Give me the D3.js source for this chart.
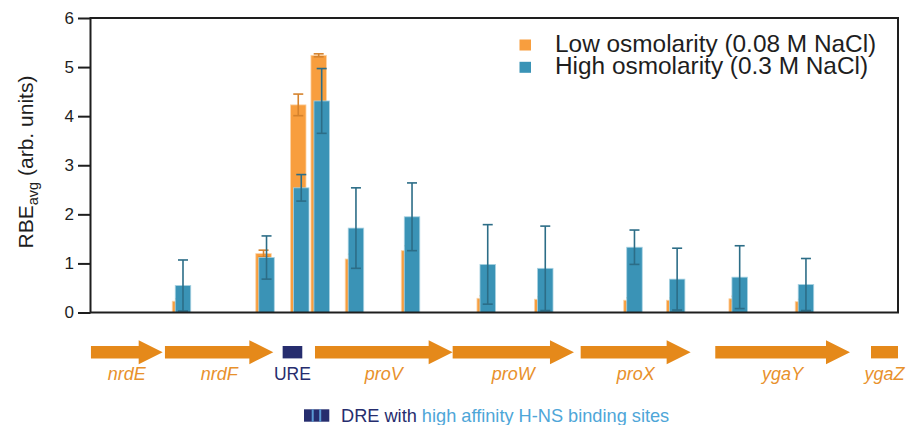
<!DOCTYPE html>
<html>
<head>
<meta charset="utf-8">
<script src="https://cdn.jsdelivr.net/npm/d3@7"></script>
<style>
  html, body { margin: 0; padding: 0; background: #ffffff; }
  svg { display: block; font-family: "Liberation Sans", Arial, Helvetica, sans-serif; }
</style>
</head>
<body>
<svg id="chart" width="906" height="425"></svg>
<script>
// ---------- data ----------
// group positions along the locus (kb)
const groupPos   = [0.815, 1.551, 1.857, 2.037, 2.339, 2.833, 3.500, 4.007, 4.793, 5.169, 5.720, 6.304];
const lowVals    = [0.23, 1.20, 4.23, 5.24, 1.09, 1.26, 0.29, 0.27, 0.25, 0.25, 0.28, 0.22];
const lowErr     = [0.05, 0.07, 0.22, 0.03, 0.10, 0.10, 0.05, 0.05, 0.05, 0.05, 0.05, 0.05];
const highVals   = [0.55, 1.12, 2.54, 4.31, 1.72, 1.95, 0.98, 0.90, 1.33, 0.68, 0.72, 0.57];
const highErr    = [0.52, 0.44, 0.27, 0.66, 0.82, 0.69, 0.81, 0.86, 0.35, 0.63, 0.64, 0.53];
const seriesNames = ["Low osmolarity (0.08 M NaCl)", "High osmolarity (0.3 M NaCl)"];
const yTicks     = [0, 1, 2, 3, 4, 5, 6];

const genes      = ["nrdE", "nrdF", "proV", "proW", "proX", "ygaY", "ygaZ"];
const geneStart  = [0.004, 0.656, 1.978, 3.191, 4.319, 5.505, 6.877];
const geneEnd    = [0.636, 1.611, 3.191, 4.260, 5.288, 6.692, 7.115];
const geneCut    = [false, false, false, false, false, false, true];
const ureRegion  = [1.693, 1.866];
const locusSpan  = [0, 7.115];

// ---------- layout ----------
const svg = d3.select("#chart");
const L = 90.5, R = 898, T = 18, B = 312.5;
const x = d3.scaleLinear().domain(locusSpan).range([L, R]);
const y = d3.scaleLinear().domain([0, 6]).range([B, T]);

const cLow = "#f89e3e", cHigh = "#3a93b6";
const cLowErr = "#d5822c", cHighErr = "#2c6d87";
const barW = 15.5, lowShift = -3, capW = 10;

// bars: low (behind)
const gLow = svg.append("g");
gLow.selectAll("rect").data(groupPos).join("rect")
  .attr("x", (d) => x(d) + lowShift - barW / 2)
  .attr("y", (d, i) => y(lowVals[i]))
  .attr("width", barW)
  .attr("height", (d, i) => y(0) - y(lowVals[i]))
  .attr("fill", cLow)
  .attr("stroke", "#fcd3a6").attr("stroke-width", 0.8);

function errBars(g, vals, errs, shift, color) {
  groupPos.forEach((p, i) => {
    const cx = x(p) + shift;
    const y1 = y(vals[i] + errs[i]), y2 = y(Math.max(0, vals[i] - errs[i]));
    g.append("line").attr("x1", cx).attr("x2", cx).attr("y1", y1).attr("y2", y2)
      .attr("stroke", color).attr("stroke-width", 1.6);
    [y1, y2].forEach(yy => g.append("line")
      .attr("x1", cx - capW / 2).attr("x2", cx + capW / 2).attr("y1", yy).attr("y2", yy)
      .attr("stroke", color).attr("stroke-width", 1.6));
  });
}
errBars(svg.append("g"), lowVals, lowErr, lowShift, cLowErr);

// bars: high (front)
const gHigh = svg.append("g");
gHigh.selectAll("rect").data(groupPos).join("rect")
  .attr("x", (d) => x(d) - barW / 2)
  .attr("y", (d, i) => y(highVals[i]))
  .attr("width", barW)
  .attr("height", (d, i) => y(0) - y(highVals[i]))
  .attr("fill", cHigh)
  .attr("stroke", "#a8d2e2").attr("stroke-width", 0.8);
errBars(svg.append("g"), highVals, highErr, 0, cHighErr);

// frame
svg.append("rect").attr("x", L).attr("y", T).attr("width", R - L).attr("height", B - T)
  .attr("fill", "none").attr("stroke", "#1e1e1e").attr("stroke-width", 2);

// y axis
const yAxis = d3.axisLeft(y).tickValues(yTicks).tickFormat(d3.format("d"))
  .tickSize(12.5).tickPadding(4);
const ga = svg.append("g").attr("transform", `translate(${L},0)`).call(yAxis);
ga.select(".domain").remove();
ga.selectAll(".tick line").attr("stroke", "#1e1e1e").attr("stroke-width", 2);
ga.selectAll(".tick text").attr("fill", "#1e1e1e").style("font-size", "17px")
  .style("font-family", "'Liberation Sans', Arial, sans-serif");

// y label
const yl = svg.append("text")
  .attr("transform", "translate(33,162) rotate(-90)")
  .attr("text-anchor", "middle").attr("fill", "#1e1e1e").style("font-size", "21px");
yl.append("tspan").text("RBE");
yl.append("tspan").text("avg").attr("dy", 5).style("font-size", "14.5px");
yl.append("tspan").text(" (arb. units)").attr("dy", -5);

// legend
const legColors = [cLow, cHigh];
const leg = svg.append("g");
seriesNames.forEach((s, i) => {
  const by = 51.7 + i * 22.3;
  leg.append("rect").attr("x", 519.5).attr("y", by - 12.2).attr("width", 11.5).attr("height", 11)
    .attr("fill", legColors[i]);
  leg.append("text").attr("x", 555).attr("y", by).text(s)
    .attr("fill", "#1e1e1e").style("font-size", "24.4px");
});

// gene map
const geneY = 352.2, shaftH = 6.2, headH = 12, headL = 24;
const cGene = "#e5891a", cGeneLbl = "#e8912c", cNavy = "#262d6e";
const gg = svg.append("g");
genes.forEach((g, i) => {
  const x0 = x(geneStart[i]), x1 = x(geneEnd[i]);
  let pts;
  if (geneCut[i]) {
    pts = [[x0, geneY - shaftH], [x1, geneY - shaftH], [x1, geneY + shaftH], [x0, geneY + shaftH]];
  } else {
    const hx = x1 - headL;
    pts = [[x0, geneY - shaftH], [hx, geneY - shaftH], [hx, geneY - headH], [x1, geneY],
           [hx, geneY + headH], [hx, geneY + shaftH], [x0, geneY + shaftH]];
  }
  gg.append("polygon").attr("points", pts.map(p => p.join(",")).join(" ")).attr("fill", cGene);
  gg.append("text").attr("x", (x0 + x1) / 2).attr("y", 380).attr("text-anchor", "middle")
    .style("font-style", "italic").style("font-size", "18px").attr("fill", cGeneLbl).text(g);
});
// URE box
gg.append("rect").attr("x", x(ureRegion[0])).attr("y", geneY - shaftH)
  .attr("width", x(ureRegion[1]) - x(ureRegion[0])).attr("height", shaftH * 2).attr("fill", cNavy);
gg.append("text").attr("x", (x(ureRegion[0]) + x(ureRegion[1])) / 2).attr("y", 380)
  .attr("text-anchor", "middle").style("font-size", "17.5px").attr("fill", cNavy).text("URE");

// bottom legend: DRE icon
const ic = svg.append("g").attr("transform", "translate(304,409.3)");
ic.append("rect").attr("width", 25.3).attr("height", 12.4).attr("fill", cNavy);
[7.7, 15.2].forEach(sx => ic.append("rect").attr("x", sx).attr("width", 2).attr("height", 12.4).attr("fill", "#5a9ad3"));
const bt = svg.append("text").attr("x", 341).attr("y", 421.5).style("font-size", "18.2px");
bt.append("tspan").text("DRE with ").attr("fill", cNavy);
bt.append("tspan").text("high affinity H-NS binding sites").attr("fill", "#4ea6d8");
</script>
</body>
</html>
